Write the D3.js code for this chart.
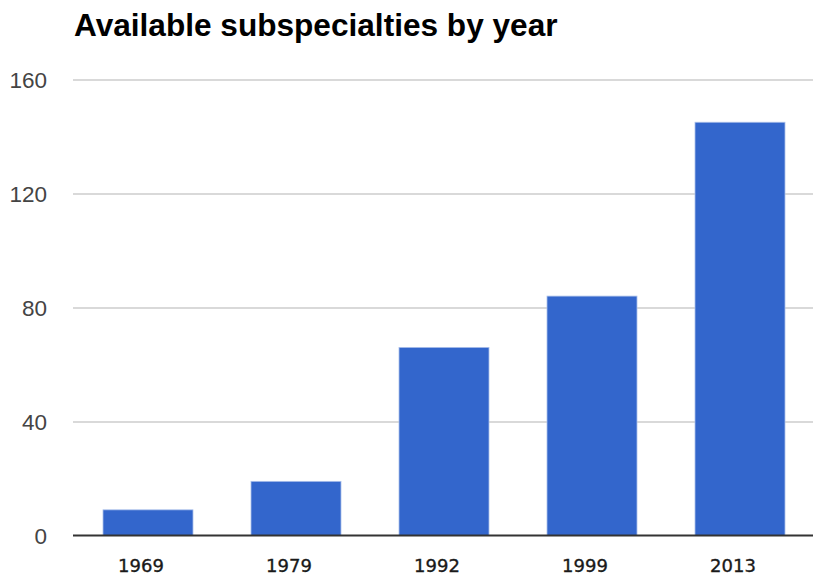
<!DOCTYPE html>
<html>
<head>
<meta charset="utf-8">
<script src="https://cdn.jsdelivr.net/npm/d3@7"></script>
<style>
  html, body { margin: 0; padding: 0; background: #fff; }
  svg { display: block; }
</style>
</head>
<body>
<svg id="chart" width="813" height="576"></svg>
<script>
const title = "Available subspecialties by year";
const years = ["1969", "1979", "1992", "1999", "2013"];
const counts = [9, 19, 66, 84, 145];
const yTicks = [0, 40, 80, 120, 160];

(function () {
const svg = d3.select("#chart");
const plotLeft = 73, plotRight = 813, plotTop = 79.5, plotBottom = 535.5;

const x = d3.scaleBand()
  .domain(years)
  .range([74, 814])
  .paddingInner(0.392)
  .paddingOuter(0.196);

const y = d3.scaleLinear()
  .domain([0, 160])
  .range([plotBottom, plotTop]);

// title
svg.append("text")
  .attr("x", 74)
  .attr("y", 36)
  .attr("font-family", "Liberation Sans, Arial, sans-serif")
  .attr("font-weight", "bold")
  .attr("font-size", 31.6)
  .attr("fill", "#000")
  .text(title);

// gridlines + y labels
const yAxis = d3.axisLeft(y)
  .tickValues(yTicks)
  .tickSize(0)
  .tickPadding(0)
  .tickFormat(d3.format("d"));

const gy = svg.append("g")
  .attr("transform", `translate(${plotLeft},0)`)
  .call(yAxis);
gy.select(".domain").remove();
gy.selectAll(".tick text")
  .attr("x", -26)
  .attr("dy", "0.36em")
  .attr("font-family", "Liberation Sans, Arial, sans-serif")
  .attr("font-size", 22.5)
  .attr("fill", "#444")
  .attr("text-anchor", "end");
gy.selectAll(".tick")
  .filter(d => d !== 0)
  .append("line")
  .attr("x1", 0)
  .attr("x2", plotRight - plotLeft)
  .attr("stroke", "#cccccc")
  .attr("stroke-width", 1.5);

// bars
svg.append("g")
  .selectAll("rect")
  .data(years.map((yr, i) => ({ yr, v: counts[i] })))
  .join("rect")
  .attr("x", d => x(d.yr))
  .attr("y", d => y(d.v))
  .attr("width", x.bandwidth())
  .attr("height", d => y(0) - y(d.v))
  .attr("fill", "#3366cc")
  .attr("stroke", "#a9bfea")
  .attr("stroke-width", 0.8);

// baseline
svg.append("line")
  .attr("x1", plotLeft)
  .attr("x2", plotRight)
  .attr("y1", y(0))
  .attr("y2", y(0))
  .attr("stroke", "#333")
  .attr("stroke-width", 2);

// x axis labels
const xAxis = d3.axisBottom(x).tickSize(0).tickPadding(0);
const gx = svg.append("g")
  .attr("transform", `translate(0,${y(0)})`)
  .call(xAxis);
gx.select(".domain").remove();
gx.selectAll(".tick text")
  .attr("x", -7)
  .attr("y", 36)
  .attr("dy", 0)
  .attr("font-family", "DejaVu Sans, Verdana, sans-serif")
  .attr("font-size", 18)
  .attr("fill", "#1a1a1a")
  .attr("stroke", "#1a1a1a")
  .attr("stroke-width", 0.35)
  .attr("text-anchor", "middle");
})();
</script>
</body>
</html>
